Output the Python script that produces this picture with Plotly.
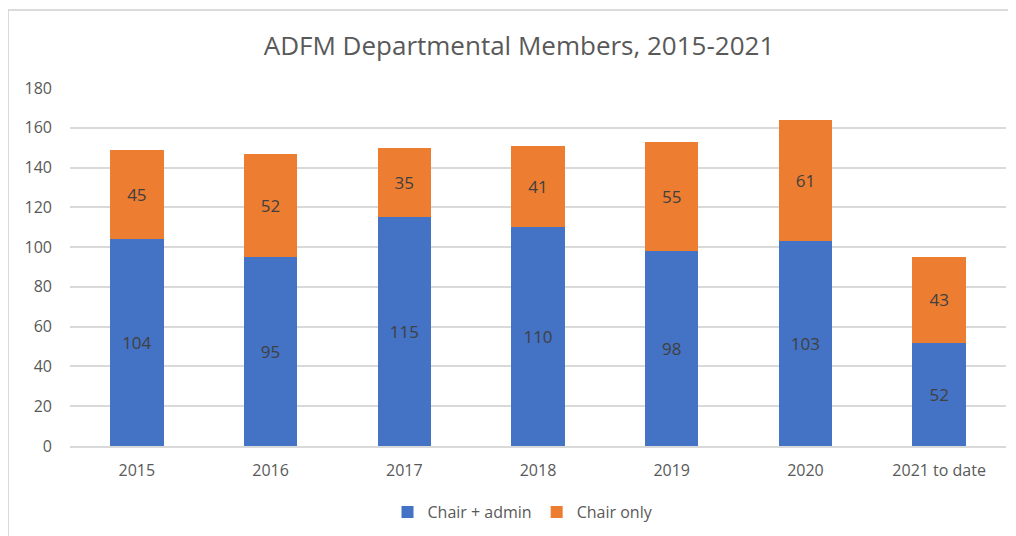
import plotly.graph_objects as go

categories = ["2015", "2016", "2017", "2018", "2019", "2020", "2021 to date"]
chair_admin = [104, 95, 115, 110, 98, 103, 52]
chair_only = [45, 52, 35, 41, 55, 61, 43]
y_ticks = [0, 20, 40, 60, 80, 100, 120, 140, 160, 180]

FONT = "Open Sans, Liberation Sans, sans-serif"
GRAY = "#595959"

fig = go.Figure()
fig.add_trace(go.Bar(x=categories, y=chair_admin, name="Chair + admin",
                     marker=dict(color="#4472C4", line=dict(width=0)),
                     text=chair_admin, textposition="inside", insidetextanchor="middle",
                     textfont=dict(color="#404040", size=17, family=FONT)))
fig.add_trace(go.Bar(x=categories, y=chair_only, name="Chair only",
                     marker=dict(color="#ED7D31", line=dict(width=0)),
                     text=chair_only, textposition="inside", insidetextanchor="middle",
                     textfont=dict(color="#404040", size=17, family=FONT)))

# page has an 8px body margin: figure pixel = screen pixel - 8
OFF = 8
W, H = 1016, 536
ml, mr, mt, mb = 70 - OFF, 10 + OFF, 88 - OFF, 90 + OFF
pw, ph = W - ml - mr, H - mt - mb

def px_x(p):
    return (p - OFF - ml) / pw

def px_y(p):
    return (H - mb - (p - OFF)) / ph

fig.add_shape(type="rect", xref="paper", yref="paper",
              x0=px_x(8), x1=px_x(1040), y0=px_y(10), y1=px_y(560),
              line=dict(color="#d0d0d0", width=1.5), fillcolor="rgba(0,0,0,0)", layer="below")

fig.update_layout(
    width=W, height=H,
    margin=dict(l=ml, r=mr, t=mt, b=mb, autoexpand=False),
    barmode="stack", bargap=0.6,
    paper_bgcolor="white", plot_bgcolor="white",
    title=dict(text="ADFM Departmental Members, 2015-2021", x=(519 - OFF) / W, xref="container",
               y=1 - (46 - OFF) / H, yanchor="middle", xanchor="center",
               font=dict(family=FONT, size=26, color=GRAY)),
    font=dict(family=FONT, color=GRAY, size=16),
    yaxis=dict(range=[0, 180], tickvals=y_ticks, showgrid=True, gridcolor="#d9d9d9",
               gridwidth=1.5, zeroline=False, showline=False, ticks="", ticklabelstandoff=17,
               tickfont=dict(size=16, color=GRAY, family=FONT)),
    xaxis=dict(showline=True, linecolor="#d9d9d9", linewidth=1.5, ticks="",
               ticklabelstandoff=9,
               tickfont=dict(size=16, color=GRAY, family=FONT)),
    legend=dict(orientation="h", xref="container", x=(523 - OFF) / W, xanchor="center",
                y=px_y(512), yanchor="middle",
                font=dict(size=16, color=GRAY, family=FONT), traceorder="normal"),
)

fig.write_html("out.html")
